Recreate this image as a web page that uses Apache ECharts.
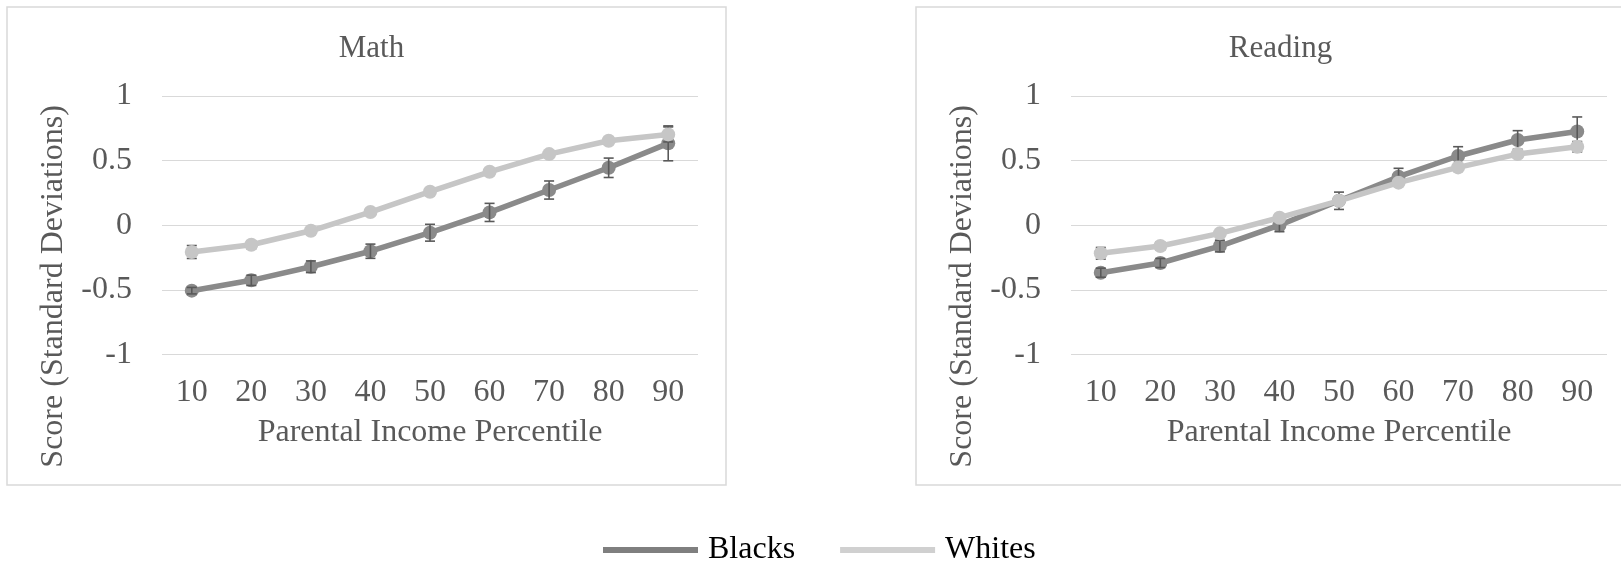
<!DOCTYPE html>
<html>
<head>
<meta charset="utf-8">
<script src="https://cdn.jsdelivr.net/npm/echarts@6/dist/echarts.min.js"></script>
<style>
html,body{margin:0;padding:0;background:#fff;}
#chart{width:1621px;height:561px;}
</style>
</head>
<body>
<div id="chart"></div>
<script>
const categories = ['10','20','30','40','50','60','70','80','90'];
const yTicks = [-1, -0.5, 0, 0.5, 1];
const mathBlacks    = [-0.505, -0.425, -0.32, -0.20, -0.057, 0.10, 0.273, 0.445, 0.634];
const mathWhites    = [-0.206, -0.15, -0.042, 0.103, 0.26, 0.414, 0.551, 0.654, 0.703];
const mathBlacksErr = [0.025, 0.04, 0.045, 0.055, 0.065, 0.07, 0.07, 0.075, 0.135];
const mathWhitesErr = [0.05, 0.03, 0.02, 0.02, 0.02, 0.02, 0.02, 0.025, 0.058];
const readBlacks    = [-0.366, -0.291, -0.16, 0.001, 0.19, 0.376, 0.536, 0.66, 0.725];
const readWhites    = [-0.216, -0.16, -0.062, 0.059, 0.19, 0.33, 0.448, 0.551, 0.608];
const readBlacksErr = [0.035, 0.035, 0.045, 0.05, 0.067, 0.065, 0.072, 0.072, 0.113];
const readWhitesErr = [0.045, 0.03, 0.02, 0.02, 0.02, 0.02, 0.02, 0.025, 0.04];

const FONT = '"Liberation Serif", "Times New Roman", serif';
const TXT = '#595959';
const C_BLACK = '#8a8a8a';
const C_WHITE = '#c6c6c6';
const ERR = '#595959';

function errData(vals, errs) {
  return vals.map((v, i) => [i, v, errs[i]]);
}
function errRender(params, api) {
  const x = api.value(0), y = api.value(1), e = api.value(2);
  const top = api.coord([x, y + e]);
  const bot = api.coord([x, y - e]);
  const hw = 5;
  const st = {stroke: ERR, lineWidth: 1.6};
  return {
    type: 'group',
    children: [
      {type: 'line', shape: {x1: top[0], y1: top[1], x2: bot[0], y2: bot[1]}, style: st},
      {type: 'line', shape: {x1: top[0]-hw, y1: top[1], x2: top[0]+hw, y2: top[1]}, style: st},
      {type: 'line', shape: {x1: bot[0]-hw, y1: bot[1], x2: bot[0]+hw, y2: bot[1]}, style: st}
    ]
  };
}

function xAxisDef(gi) {
  return {
    type: 'category', gridIndex: gi, data: categories, boundaryGap: true,
    axisLine: {show: false}, axisTick: {show: false},
    axisLabel: {color: TXT, fontFamily: FONT, fontSize: 32, margin: 22},
    name: 'Parental Income Percentile', nameLocation: 'middle', nameGap: 62,
    nameTextStyle: {color: TXT, fontFamily: FONT, fontSize: 32}
  };
}
function yAxisDef(gi) {
  return {
    type: 'value', gridIndex: gi, min: -1, max: 1, interval: 0.5,
    axisLine: {show: false}, axisTick: {show: false},
    splitLine: {show: true, lineStyle: {color: '#d9d9d9', width: 1.2}},
    axisLabel: {color: TXT, fontFamily: FONT, fontSize: 32, margin: 30,
      formatter: v => (yTicks.indexOf(v) >= 0 ? String(v) : '')},
    name: 'Score (Standard Deviations)', nameLocation: 'middle', nameGap: 92, nameRotate: 90,
    nameTextStyle: {color: TXT, fontFamily: FONT, fontSize: 32, padding: [0, 122, 0, 0]}
  };
}
function lineSeries(name, gi, data, color, z) {
  return {
    name: name, type: 'line', xAxisIndex: gi, yAxisIndex: gi, data: data,
    symbol: 'circle', symbolSize: 14, z: z,
    lineStyle: {color: color, width: 5.5},
    itemStyle: {color: color},
    emphasis: {disabled: true}, animation: false
  };
}
function errSeries(gi, vals, errs, z) {
  return {
    type: 'custom', xAxisIndex: gi, yAxisIndex: gi, z: z,
    data: errData(vals, errs), renderItem: errRender,
    encode: {x: 0, y: 1}, silent: true, animation: false
  };
}

const chart = echarts.init(document.getElementById('chart'));
chart.setOption({
  animation: false,
  backgroundColor: '#fff',
  title: [
    {text: 'Math', left: 366.5, top: 28, textAlign: 'center',
     textStyle: {color: TXT, fontFamily: FONT, fontSize: 31, fontWeight: 'normal'}},
    {text: 'Reading', left: 1275.5, top: 28, textAlign: 'center',
     textStyle: {color: TXT, fontFamily: FONT, fontSize: 31, fontWeight: 'normal'}}
  ],
  graphic: [
    {type: 'rect', shape: {x: 7, y: 7, width: 719, height: 478}, style: {fill: 'none', stroke: '#d9d9d9', lineWidth: 1.5}, silent: true, z: -1},
    {type: 'rect', shape: {x: 916, y: 7, width: 719, height: 478}, style: {fill: 'none', stroke: '#d9d9d9', lineWidth: 1.5}, silent: true, z: -1}
  ],
  legend: {
    left: 598, top: 529, itemWidth: 95, itemHeight: 6, itemGap: 45,
    icon: 'rect',
    data: [{name: 'Blacks', itemStyle: {color: '#7f7f7f'}}, {name: 'Whites', itemStyle: {color: '#d0d0d0'}}],
    textStyle: {color: '#000', fontFamily: FONT, fontSize: 32, padding: [0, 0, 0, 5]}
  },
  grid: [
    {left: 162, top: 96, width: 536, height: 258.7},
    {left: 1071, top: 96, width: 536, height: 258.7}
  ],
  xAxis: [xAxisDef(0), xAxisDef(1)],
  yAxis: [yAxisDef(0), yAxisDef(1)],
  series: [
    lineSeries('Blacks', 0, mathBlacks, C_BLACK, 2),
    errSeries(0, mathBlacks, mathBlacksErr, 3),
    errSeries(0, mathWhites, mathWhitesErr, 3.5),
    lineSeries('Whites', 0, mathWhites, C_WHITE, 4),
    lineSeries('Blacks', 1, readBlacks, C_BLACK, 2),
    errSeries(1, readBlacks, readBlacksErr, 3),
    errSeries(1, readWhites, readWhitesErr, 3.5),
    lineSeries('Whites', 1, readWhites, C_WHITE, 4)
  ]
});
</script>
</body>
</html>
